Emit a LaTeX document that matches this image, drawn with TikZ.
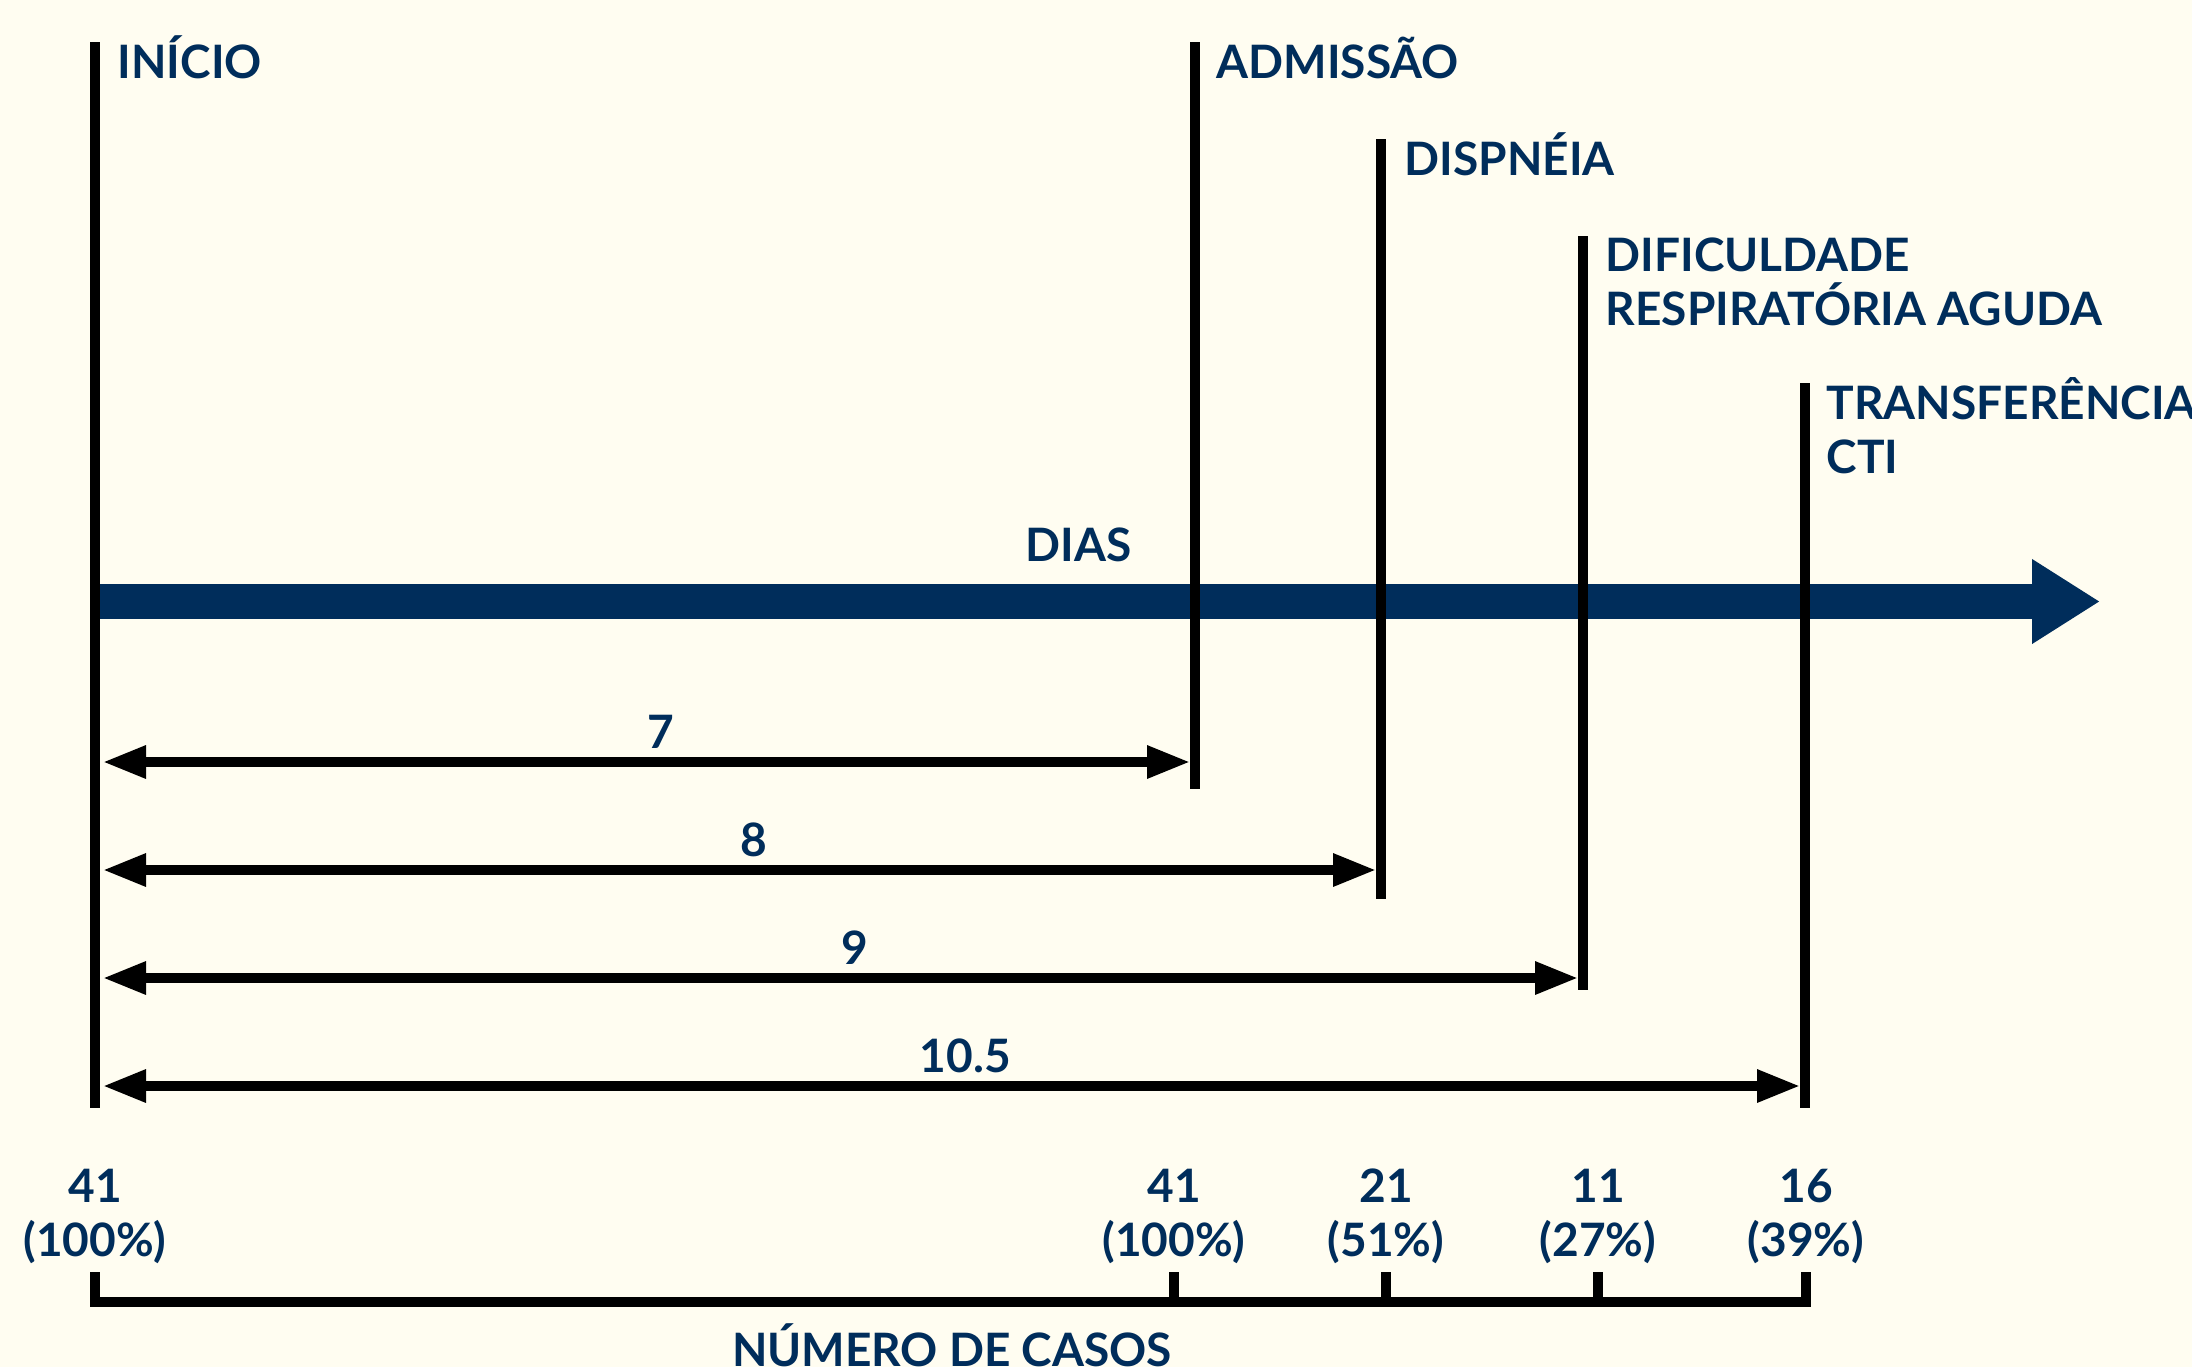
\documentclass[tikz,border=0pt]{standalone}
\usepackage{fontspec}
\setmainfont{Lato Bold}
\usepackage{tikz}
\usetikzlibrary{arrows.meta,positioning}

\definecolor{navy}{RGB}{0,45,91}
\definecolor{cream}{RGB}{255,253,241}

\begin{document}
\begin{tikzpicture}[
    x=0.1mm, y=-0.1mm,
    >={Triangle[length=4.3mm,width=3.1mm]},
    evt/.style={line width=2.7pt},
    span/.style={<->, line width=2.6pt},
    lbl/.style={text=navy, inner sep=0pt, font=\fontsize{13.1}{15.1}\selectfont},
    num/.style={lbl, anchor=base, xshift=1.4mm, yshift=1.4mm}
]

% Background
\fill[cream] (0,0) rectangle (2192,1367);
\useasboundingbox (0,0) rectangle (2192,1367);

% Time axis
\coordinate (axisStart) at (91,601.5);
\coordinate (axisEnd) at (2100,601.5);
\draw[navy, line width=10pt, -{Triangle[length=6.8mm,width=8mm]}] (axisStart) -- (axisEnd);
\node[lbl, anchor=base west] (dias) at (1025,561) {DIAS};

% Events
\coordinate (inicioTop) at (95,42);    \coordinate (inicioBot) at (95,1108);
\coordinate (admTop) at (1195,42);     \coordinate (admBot) at (1195,789);
\coordinate (dispTop) at (1381,139);   \coordinate (dispBot) at (1381,899);
\coordinate (difTop) at (1583,236);    \coordinate (difBot) at (1583,990);
\coordinate (ctiTop) at (1805,383);    \coordinate (ctiBot) at (1805,1108);

\draw[evt] (inicioTop) -- (inicioBot);
\draw[evt] (admTop) -- (admBot);
\draw[evt] (dispTop) -- (dispBot);
\draw[evt] (difTop) -- (difBot);
\draw[evt] (ctiTop) -- (ctiBot);

% labels (multi-line nodes sit on their last line)
\node[lbl, anchor=base west] (tInicio) at ([shift={(22,36)}]inicioTop) {INÍCIO};
\node[lbl, anchor=base west] (tAdm) at ([shift={(21,36)}]admTop) {ADMISSÃO};
\node[lbl, anchor=base west] (tDisp) at ([shift={(23,36)}]dispTop) {DISPNÉIA};
\node[lbl, anchor=base west, align=left] (tDif) at ([shift={(22,89)}]difTop) {DIFICULDADE\\RESPIRATÓRIA AGUDA};
\node[lbl, anchor=base west, align=left] (tCti) at ([shift={(21,90)}]ctiTop) {TRANSFERÊNCIA\\CTI};

% Intervals (days)
\coordinate (d7L) at (103,762);   \coordinate (d7R) at (1190,762);
\coordinate (d8L) at (103,870);   \coordinate (d8R) at (1376,870);
\coordinate (d9L) at (103,978);   \coordinate (d9R) at (1578,978);
\coordinate (d10L) at (103,1086); \coordinate (d10R) at (1800,1086);

\draw[span] (d7L) -- node[num] (n7) {7} (d7R);
\draw[span] (d8L) -- node[num] (n8) {8} (d8R);
\draw[span] (d9L) -- node[num] (n9) {9} (d9R);
\draw[span] (d10L) -- node[num] (n10) {10.5} (d10R);

% Number of cases
\node[lbl, anchor=base, align=center] (c0) at (95,1256) {41\\(100\%)};
\node[lbl, anchor=base, align=center] (c1) at (1174,1256) {41\\(100\%)};
\node[lbl, anchor=base, align=center] (c2) at (1386,1256) {21\\(51\%)};
\node[lbl, anchor=base, align=center] (c3) at (1598,1256) {11\\(27\%)};
\node[lbl, anchor=base, align=center] (c4) at (1806,1256) {16\\(39\%)};

\coordinate (k0) at (95,1272);   \coordinate (k0b) at (95,1302);
\coordinate (k1) at (1174,1272); \coordinate (k1b) at (1174,1302);
\coordinate (k2) at (1386,1272); \coordinate (k2b) at (1386,1302);
\coordinate (k3) at (1598,1272); \coordinate (k3b) at (1598,1302);
\coordinate (k4) at (1806,1272); \coordinate (k4b) at (1806,1302);

\draw[evt] (k0) -- (k0b) -- (k4b) -- (k4);
\draw[evt] (k1) -- (k1b);
\draw[evt] (k2) -- (k2b);
\draw[evt] (k3) -- (k3b);

\node[lbl, anchor=base] (casos) at (952,1366) {NÚMERO DE CASOS};

\end{tikzpicture}
\end{document}
